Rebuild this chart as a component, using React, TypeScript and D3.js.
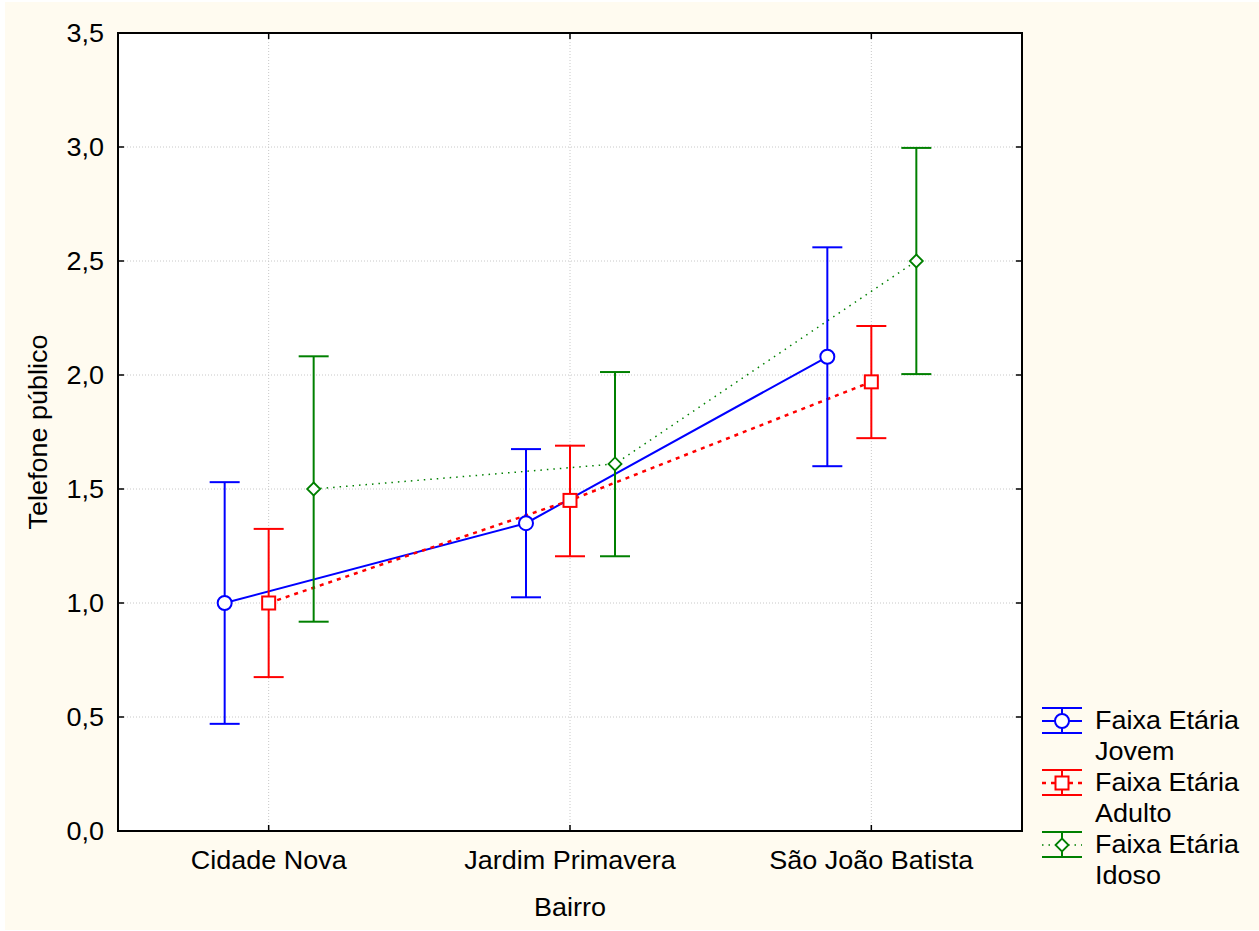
import React from "react";
import * as d3 from "d3";

const categories = ["Cidade Nova", "Jardim Primavera", "São João Batista"];
const seriesNames = ["Faixa Etária\nJovem", "Faixa Etária\nAdulto", "Faixa Etária\nIdoso"];
const jovemMean = [1.0, 1.35, 2.08];
const jovemLow = [0.47, 1.025, 1.6];
const jovemHigh = [1.53, 1.675, 2.56];
const adultoMean = [1.0, 1.45, 1.97];
const adultoLow = [0.675, 1.205, 1.723];
const adultoHigh = [1.325, 1.69, 2.215];
const idosoMean = [1.5, 1.61, 2.5];
const idosoLow = [0.918, 1.205, 2.004];
const idosoHigh = [2.082, 2.013, 2.996];
const yTicks = [0, 0.5, 1.0, 1.5, 2.0, 2.5, 3.0, 3.5];

const W = 1259, H = 931;
const L = 118, R = 1022, T = 33, B = 831;
const FONT = "'Liberation Sans', Arial, sans-serif";
const FS = 25;
const SX = 1.08;

const series = [
  { name: seriesNames[0], mean: jovemMean, low: jovemLow, high: jovemHigh, color: "#0000FF", dash: "none", lw: 2, marker: "circle", off: -44 },
  { name: seriesNames[1], mean: adultoMean, low: adultoLow, high: adultoHigh, color: "#FF0000", dash: "4,5", lw: 2.5, marker: "square", off: 0 },
  { name: seriesNames[2], mean: idosoMean, low: idosoLow, high: idosoHigh, color: "#008000", dash: "1.5,5", lw: 1.5, marker: "diamond", off: 45 },
];

function Marker({ type, x, y, color }: { type: string; x: number; y: number; color: string }) {
  if (type === "circle") return <circle cx={x} cy={y} r={7} fill="white" stroke={color} strokeWidth={2} />;
  if (type === "square") return <rect x={x - 6.5} y={y - 6.5} width={13} height={13} fill="white" stroke={color} strokeWidth={2} />;
  const s = 6.5;
  return <path d={`M${x},${y - s}L${x + s},${y}L${x},${y + s}L${x - s},${y}Z`} fill="white" stroke={color} strokeWidth={1.8} />;
}

function Txt({ x, y, anchor, children, rotate }: { x: number; y: number; anchor?: string; children: any; rotate?: boolean }) {
  const tr = rotate
    ? `translate(${x},${y}) rotate(-90) scale(${SX},1)`
    : `translate(${x},${y}) scale(${SX},1)`;
  return (
    <text transform={tr} textAnchor={anchor || "start"} fontSize={FS} fill="#000">{children}</text>
  );
}

export default function App() {
  const x = d3.scalePoint<string>().domain(categories).range([L, R]).padding(0.5);
  const y = d3.scaleLinear().domain([0, 3.5]).range([B, T]);
  const lineGen = d3.line<[number, number]>().x(d => d[0]).y(d => d[1]);

  return (
    <svg width={W} height={H} style={{ position: "absolute", left: 0, top: 0 }} fontFamily={FONT}>
      <rect x={0} y={0} width={W} height={H} fill="#FFFFFF" />
      <rect x={5} y={2} width={W - 5} height={928} fill="#FFFBF0" />
      <rect x={L} y={T} width={R - L} height={B - T} fill="#FFFFFF" />
      {/* grid */}
      {yTicks.slice(1, -1).map(t => (
        <line key={"gy" + t} x1={L} x2={R} y1={y(t)} y2={y(t)} stroke="#C8C8C8" strokeWidth={1} strokeDasharray="1,2" />
      ))}
      {categories.map(c => (
        <line key={"gx" + c} x1={x(c)} x2={x(c)} y1={T} y2={B} stroke="#C8C8C8" strokeWidth={1} strokeDasharray="1,2" />
      ))}
      {/* connecting lines */}
      {series.map(s => (
        <path key={"ln" + s.name} d={lineGen(categories.map((c, i) => [x(c)! + s.off, y(s.mean[i])]))!}
          fill="none" stroke={s.color} strokeWidth={s.lw} strokeDasharray={s.dash === "none" ? undefined : s.dash} />
      ))}
      {/* error bars */}
      {series.map(s => categories.map((c, i) => {
        const cx = x(c)! + s.off;
        return (
          <g key={"eb" + s.name + c} stroke={s.color} strokeWidth={2}>
            <line x1={cx} x2={cx} y1={y(s.low[i])} y2={y(s.high[i])} />
            <line x1={cx - 15} x2={cx + 15} y1={y(s.low[i])} y2={y(s.low[i])} />
            <line x1={cx - 15} x2={cx + 15} y1={y(s.high[i])} y2={y(s.high[i])} />
          </g>
        );
      }))}
      {series.map(s => categories.map((c, i) => (
        <Marker key={"mk" + s.name + c} type={s.marker} x={x(c)! + s.off} y={y(s.mean[i])} color={s.color} />
      )))}
      {/* frame */}
      <rect x={L} y={T} width={R - L} height={B - T} fill="none" stroke="#000" strokeWidth={2} />
      {/* ticks */}
      {yTicks.map(t => (
        <g key={"ty" + t}>
          <line x1={L} x2={L + 6} y1={y(t)} y2={y(t)} stroke="#000" strokeWidth={1.5} />
          <line x1={R - 6} x2={R} y1={y(t)} y2={y(t)} stroke="#000" strokeWidth={1.5} />
          <Txt x={104} y={y(t) + 9} anchor="end">{d3.format(".1f")(t).replace(".", ",")}</Txt>
        </g>
      ))}
      {categories.map(c => (
        <g key={"tx" + c}>
          <line x1={x(c)} x2={x(c)} y1={B} y2={B - 6} stroke="#000" strokeWidth={1.5} />
          <line x1={x(c)} x2={x(c)} y1={T} y2={T + 6} stroke="#000" strokeWidth={1.5} />
          <Txt x={x(c)!} y={869} anchor="middle">{c}</Txt>
        </g>
      ))}
      <Txt x={570} y={916} anchor="middle">Bairro</Txt>
      <Txt x={47} y={(T + B) / 2} anchor="middle" rotate>Telefone público</Txt>
      {/* legend */}
      {series.map((s, k) => {
        const cy = 721 + k * 62;
        const lx1 = 1042, lx2 = 1082, lc = 1062;
        const [l1, l2] = s.name.split("\n");
        return (
          <g key={"lg" + s.name}>
            <g stroke={s.color} strokeWidth={2}>
              <line x1={lx1} x2={lx2} y1={cy - 13} y2={cy - 13} />
              <line x1={lx1} x2={lx2} y1={cy + 12} y2={cy + 12} />
              <line x1={lc} x2={lc} y1={cy - 13} y2={cy + 12} />
              <line x1={lx1} x2={lx2} y1={cy} y2={cy} strokeWidth={s.lw}
                strokeDasharray={s.dash === "none" ? undefined : s.dash} />
            </g>
            <Marker type={s.marker} x={lc} y={cy} color={s.color} />
            <Txt x={1095} y={cy + 8}>{l1}</Txt>
            <Txt x={1095} y={cy + 39}>{l2}</Txt>
          </g>
        );
      })}
    </svg>
  );
}
